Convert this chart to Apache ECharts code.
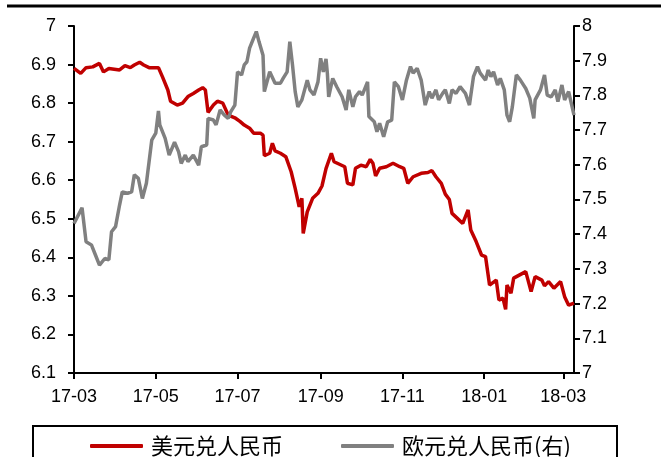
<!DOCTYPE html>
<html>
<head>
<meta charset="utf-8">
<script src="https://cdn.jsdelivr.net/npm/echarts@6/dist/echarts.min.js"></script>
<style>
  html, body { margin: 0; padding: 0; background: #fff; }
  #chart { width: 661px; height: 457px; }
</style>
</head>
<body>
<div id="chart"></div>
<script>
  // 美元兑人民币
  const usdDates = [
    '2017-03-01','2017-03-06','2017-03-10','2017-03-15','2017-03-20','2017-03-23','2017-03-27','2017-03-31',
    '2017-04-04','2017-04-08','2017-04-12','2017-04-15','2017-04-19','2017-04-22','2017-04-26','2017-05-03',
    '2017-05-06','2017-05-10','2017-05-12','2017-05-17','2017-05-21','2017-05-25','2017-05-29','2017-06-02',
    '2017-06-05','2017-06-07','2017-06-09','2017-06-13','2017-06-16','2017-06-20','2017-06-24','2017-06-29',
    '2017-07-03','2017-07-06','2017-07-10','2017-07-13','2017-07-18','2017-07-20','2017-07-21','2017-07-25',
    '2017-07-27','2017-07-29','2017-08-02','2017-08-06','2017-08-10','2017-08-13','2017-08-16','2017-08-18',
    '2017-08-19','2017-08-22','2017-08-26','2017-08-30','2017-09-02','2017-09-05','2017-09-09','2017-09-11',
    '2017-09-19','2017-09-21','2017-09-25','2017-09-27','2017-10-01','2017-10-05','2017-10-08','2017-10-10',
    '2017-10-12','2017-10-15','2017-10-20','2017-10-25','2017-10-30','2017-11-02','2017-11-05','2017-11-09',
    '2017-11-15','2017-11-20','2017-11-23','2017-11-26','2017-11-30','2017-12-03','2017-12-06','2017-12-08',
    '2017-12-12','2017-12-16','2017-12-20','2017-12-22','2017-12-26','2017-12-30','2018-01-02','2018-01-05',
    '2018-01-10','2018-01-12','2018-01-15','2018-01-17','2018-01-18','2018-01-21','2018-01-23','2018-02-01',
    '2018-02-05','2018-02-08','2018-02-13','2018-02-15','2018-02-18','2018-02-22','2018-02-27','2018-03-02',
    '2018-03-05','2018-03-09'
  ];
  const usdValues = [
    6.890,6.877,6.892,6.894,6.903,6.881,6.890,6.888,
    6.886,6.897,6.892,6.899,6.906,6.899,6.892,6.892,
    6.868,6.834,6.805,6.795,6.800,6.817,6.825,6.834,
    6.840,6.834,6.776,6.795,6.805,6.800,6.769,6.762,
    6.752,6.743,6.735,6.722,6.722,6.717,6.664,6.670,
    6.696,6.676,6.670,6.661,6.622,6.579,6.531,6.553,
    6.462,6.518,6.553,6.566,6.585,6.630,6.670,6.648,
    6.635,6.592,6.588,6.631,6.639,6.635,6.654,6.644,
    6.611,6.631,6.635,6.644,6.635,6.631,6.592,6.609,
    6.618,6.620,6.625,6.609,6.592,6.564,6.550,6.514,
    6.501,6.488,6.523,6.471,6.441,6.406,6.402,6.328,
    6.341,6.289,6.294,6.265,6.328,6.307,6.346,6.363,
    6.311,6.350,6.341,6.326,6.337,6.320,6.337,6.298,
    6.276,6.281
  ];

  // 欧元兑人民币(右)
  const eurDates = [
    '2017-03-01','2017-03-07','2017-03-10','2017-03-14','2017-03-17','2017-03-20','2017-03-24','2017-03-27',
    '2017-03-29','2017-04-01','2017-04-04','2017-04-06','2017-04-10','2017-04-13','2017-04-15','2017-04-18',
    '2017-04-21','2017-04-24','2017-04-28','2017-05-01','2017-05-03','2017-05-04','2017-05-08','2017-05-11',
    '2017-05-15','2017-05-18','2017-05-20','2017-05-23','2017-05-25','2017-05-29','2017-06-02','2017-06-04',
    '2017-06-08','2017-06-09','2017-06-13','2017-06-15','2017-06-18','2017-06-21','2017-06-24','2017-06-26',
    '2017-06-29','2017-07-01','2017-07-04','2017-07-06','2017-07-08','2017-07-10','2017-07-13','2017-07-15',
    '2017-07-17','2017-07-20','2017-07-21','2017-07-25','2017-07-29','2017-08-02','2017-08-04','2017-08-07',
    '2017-08-09','2017-08-11','2017-08-13','2017-08-15','2017-08-18','2017-08-22','2017-08-24','2017-08-27',
    '2017-08-30','2017-09-01','2017-09-03','2017-09-05','2017-09-06','2017-09-07','2017-09-10','2017-09-13',
    '2017-09-17','2017-09-20','2017-09-22','2017-09-25','2017-09-27','2017-09-30','2017-10-02','2017-10-06',
    '2017-10-07','2017-10-11','2017-10-13','2017-10-15','2017-10-18','2017-10-21','2017-10-24','2017-10-26',
    '2017-10-29','2017-11-01','2017-11-04','2017-11-07','2017-11-09','2017-11-12','2017-11-15','2017-11-18',
    '2017-11-21','2017-11-23','2017-11-26','2017-11-28','2017-12-01','2017-12-03','2017-12-06','2017-12-08',
    '2017-12-11','2017-12-14','2017-12-18','2017-12-21','2017-12-24','2017-12-27','2017-12-29','2018-01-02',
    '2018-01-04','2018-01-06','2018-01-08','2018-01-11','2018-01-13','2018-01-16','2018-01-18','2018-01-20',
    '2018-01-22','2018-01-25','2018-01-28','2018-02-01','2018-02-04','2018-02-07','2018-02-08','2018-02-12',
    '2018-02-15','2018-02-17','2018-02-20','2018-02-23','2018-02-25','2018-02-28','2018-03-02','2018-03-05',
    '2018-03-09'
  ];
  const eurValues = [
    7.431,7.476,7.378,7.369,7.340,7.311,7.330,7.326,
    7.407,7.422,7.484,7.522,7.518,7.522,7.571,7.561,
    7.503,7.547,7.671,7.691,7.755,7.715,7.676,7.628,
    7.665,7.638,7.604,7.628,7.609,7.628,7.599,7.652,
    7.657,7.734,7.729,7.715,7.758,7.744,7.734,7.753,
    7.772,7.868,7.859,7.888,7.897,7.936,7.965,7.984,
    7.955,7.916,7.811,7.868,7.835,7.835,7.849,7.868,
    7.955,7.888,7.811,7.767,7.787,7.844,7.816,7.801,
    7.839,7.907,7.868,7.905,7.864,7.796,7.849,7.825,
    7.796,7.758,7.816,7.767,7.796,7.811,7.801,7.839,
    7.739,7.724,7.695,7.720,7.681,7.724,7.729,7.839,
    7.825,7.787,7.844,7.883,7.864,7.878,7.844,7.772,
    7.811,7.792,7.816,7.787,7.806,7.816,7.777,7.816,
    7.806,7.825,7.806,7.772,7.854,7.883,7.864,7.844,
    7.873,7.854,7.868,7.830,7.849,7.816,7.743,7.724,
    7.767,7.859,7.844,7.820,7.792,7.734,7.787,7.816,
    7.859,7.801,7.796,7.816,7.782,7.830,7.787,7.811,
    7.743
  ];

  // x轴刻度（每两个月）
  const monthTicks = ['2017-03-01','2017-05-01','2017-07-01','2017-09-01','2017-11-01','2018-01-01','2018-03-01'];
  const xMin = '2017-03-01';
  const xMax = '2018-03-09';

  const toTs = s => {
    const p = s.split('-').map(Number);
    return Date.UTC(p[0], p[1] - 1, p[2]);
  };
  const pad = n => (n < 10 ? '0' + n : '' + n);
  const fmtMonth = v => {
    const d = new Date(v);
    return pad(d.getUTCFullYear() % 100) + '-' + pad(d.getUTCMonth() + 1);
  };

  const usdData = usdDates.map((d, i) => [toTs(d), usdValues[i]]);
  const eurData = eurDates.map((d, i) => [toTs(d), eurValues[i]]);
  const tickTs = monthTicks.map(toTs);

  const red = '#C00000';
  const gray = '#808080';
  const labelFont = { color: '#000', fontSize: 18, fontFamily: '"Liberation Sans", Arial, sans-serif' };

  const myChart = echarts.init(document.getElementById('chart'), null, { renderer: 'canvas' });

  const option = {
    animation: false,
    backgroundColor: '#fff',
    grid: { left: 74, right: 87, top: 26, bottom: 84 },
    legend: {
      left: 85,
      top: 430,
      itemWidth: 53,
      itemHeight: 4,
      itemGap: 58,
      icon: 'roundRect',
      textStyle: { color: '#000', fontSize: 22, fontFamily: '"Noto Sans CJK SC", sans-serif', padding: [0, 0, 0, 3] },
      data: ['美元兑人民币', '欧元兑人民币(右)']
    },
    graphic: [
      { type: 'line', shape: { x1: 7, y1: 6, x2: 661, y2: 6 }, style: { stroke: '#000', lineWidth: 3 } },
      { type: 'rect', shape: { x: 33, y: 426, width: 584, height: 60 }, style: { fill: 'none', stroke: '#000', lineWidth: 2 } }
    ],
    xAxis: {
      type: 'value',
      min: toTs(xMin),
      max: toTs(xMax),
      axisLine: { show: true, onZero: false, lineStyle: { color: '#000', width: 2 } },
      axisTick: { show: true, length: 6, lineStyle: { color: '#000', width: 2 }, customValues: tickTs },
      axisLabel: Object.assign({ margin: 15, customValues: tickTs, formatter: fmtMonth, hideOverlap: false, showMinLabel: true, showMaxLabel: true }, labelFont),
      splitLine: { show: false }
    },
    yAxis: [
      {
        type: 'value',
        min: 6.1,
        max: 7,
        interval: 0.1,
        position: 'left',
        axisLine: { show: true, lineStyle: { color: '#000', width: 2 } },
        axisTick: { show: true, length: 6, lineStyle: { color: '#000', width: 2 } },
        axisLabel: Object.assign({ margin: 18 }, labelFont),
        splitLine: { show: false }
      },
      {
        type: 'value',
        min: 7,
        max: 8,
        interval: 0.1,
        position: 'right',
        axisLine: { show: true, lineStyle: { color: '#000', width: 2 } },
        axisTick: { show: true, length: 6, lineStyle: { color: '#000', width: 2 } },
        axisLabel: Object.assign({ margin: 8 }, labelFont),
        splitLine: { show: false }
      }
    ],
    series: [
      {
        name: '美元兑人民币',
        type: 'line',
        data: usdData,
        yAxisIndex: 0,
        showSymbol: false,
        symbol: 'none',
        itemStyle: { color: red },
        lineStyle: { color: red, width: 3.5 }
      },
      {
        name: '欧元兑人民币(右)',
        type: 'line',
        data: eurData,
        yAxisIndex: 1,
        showSymbol: false,
        symbol: 'none',
        itemStyle: { color: gray },
        lineStyle: { color: gray, width: 3.5 }
      }
    ]
  };

  option && myChart.setOption(option);
</script>
</body>
</html>
